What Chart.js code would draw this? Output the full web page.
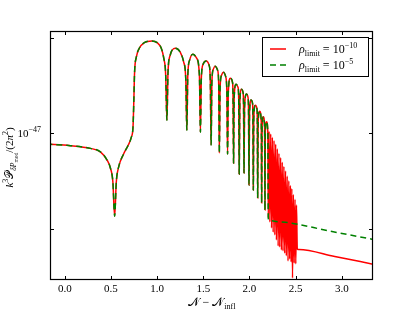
<!DOCTYPE html>
<html>
<head>
<meta charset="utf-8">
<script src="https://cdn.jsdelivr.net/npm/chart.js@4/dist/chart.umd.min.js"></script>
<style>
  html, body { margin: 0; padding: 0; background: #fff; }
</style>
</head>
<body>
<canvas id="chPower" width="415" height="312"></canvas>
<script>
// values: N - N_infl against k^3 P / (2 pi^2)
// part where both runs overlap (up to the end of the green oscillations)
var nShared = [
  -0.200, 0.062, 0.278, 0.386, 0.458, 0.494, 0.521, 0.540, 0.558, 0.583,
  0.637, 0.688, 0.721, 0.739, 0.748, 0.756, 0.775, 0.807, 0.861, 0.944,
  1.001, 1.045, 1.072, 1.093, 1.106,
  1.118, 1.142, 1.196, 1.250, 1.288, 1.311, 1.322,
  1.332, 1.352, 1.387, 1.428, 1.458, 1.469,
  1.479, 1.498, 1.531, 1.563, 1.576, 1.585,
  1.593, 1.609, 1.628, 1.655, 1.667, 1.674,
  1.682, 1.698, 1.718, 1.741, 1.755, 1.763,
  1.771, 1.793, 1.816, 1.822, 1.828,
  1.834, 1.855, 1.876, 1.884, 1.889,
  1.896, 1.914, 1.930, 1.936, 1.941,
  1.947, 1.968, 1.984, 1.990, 1.995,
  2.001, 2.017, 2.033, 2.037, 2.042,
  2.047, 2.065, 2.082, 2.085, 2.089,
  2.094, 2.111, 2.128, 2.132,
  2.137, 2.150, 2.164, 2.168,
  2.172, 2.185, 2.199, 2.204
];
var pShared = [
  0.923e-47, 0.913e-47, 0.895e-47, 0.873e-47, 0.822e-47, 0.776e-47, 0.701e-47, 0.547e-47, 0.701e-47, 0.781e-47,
  0.859e-47, 0.917e-47, 0.971e-47, 1.045e-47, 1.271e-47, 1.557e-47, 1.737e-47, 1.853e-47, 1.929e-47, 1.954e-47,
  1.929e-47, 1.853e-47, 1.724e-47, 1.524e-47, 1.099e-47,
  1.557e-47, 1.762e-47, 1.853e-47, 1.801e-47, 1.675e-47, 1.469e-47, 1.022e-47,
  1.513e-47, 1.699e-47, 1.775e-47, 1.724e-47, 1.524e-47, 1.007e-47,
  1.491e-47, 1.650e-47, 1.690e-47, 1.638e-47, 1.469e-47, 0.917e-47,
  1.448e-47, 1.592e-47, 1.627e-47, 1.580e-47, 1.427e-47, 0.865e-47,
  1.387e-47, 1.524e-47, 1.557e-47, 1.513e-47, 1.367e-47, 0.859e-47,
  1.347e-47, 1.491e-47, 1.448e-47, 1.318e-47, 0.804e-47,
  1.289e-47, 1.427e-47, 1.396e-47, 1.271e-47, 0.742e-47,
  1.252e-47, 1.376e-47, 1.347e-47, 1.234e-47, 0.748e-47,
  1.208e-47, 1.328e-47, 1.299e-47, 1.190e-47, 0.686e-47,
  1.165e-47, 1.271e-47, 1.243e-47, 1.148e-47, 0.661e-47,
  1.123e-47, 1.225e-47, 1.190e-47, 1.107e-47, 0.624e-47,
  1.083e-47, 1.173e-47, 1.083e-47, 0.602e-47,
  1.045e-47, 1.127e-47, 1.045e-47, 0.572e-47,
  1.015e-47, 1.087e-47, 1.007e-47, 0.540e-47
];

// rho_limit = 1e-10 keeps oscillating (densely) up to ~2.5
var nRedTail = [
  2.2124, 2.2210, 2.2302, 2.2394, 2.2480, 2.2567, 2.2659, 2.2750, 2.2837, 2.2923,
  2.3015, 2.3107, 2.3193, 2.3280, 2.3372, 2.3463, 2.3550, 2.3636, 2.3728, 2.3820,
  2.3906, 2.3993, 2.4085, 2.4176, 2.4263, 2.4349, 2.4430, 2.4511, 2.4587, 2.4663,
  2.4754, 2.4846, 2.4933, 2.5019, 2.5094, 2.5181, 2.535, 2.924, 3.338
];
var pRedTail = [
  1.012e-47, 0.524e-47, 0.994e-47, 0.502e-47, 0.970e-47, 0.487e-47, 0.947e-47, 0.477e-47, 0.923e-47, 0.460e-47,
  0.892e-47, 0.440e-47, 0.864e-47, 0.437e-47, 0.837e-47, 0.428e-47, 0.810e-47, 0.425e-47, 0.785e-47, 0.418e-47,
  0.760e-47, 0.410e-47, 0.732e-47, 0.395e-47, 0.707e-47, 0.401e-47, 0.683e-47, 0.392e-47, 0.668e-47, 0.349e-47,
  0.640e-47, 0.389e-47, 0.618e-47, 0.387e-47, 0.593e-47, 0.431e-47, 0.429e-47, 0.408e-47, 0.386e-47
];

// rho_limit = 1e-5
var nGreenTail = [2.209, 2.438, 2.870, 3.338];
var pGreenTail = [0.532e-47, 0.521e-47, 0.491e-47, 0.462e-47];

var xTicks = [0, 0.5, 1, 1.5, 2, 2.5, 3];
var yTicks = [5e-48, 1e-47, 2e-47];
var yLabelled = 1e-47;
var legendExp = ['\u221210', '\u22125'];

var SERIF = "'Liberation Serif', 'DejaVu Serif', serif";

function toPoints(xs, ys) {
  return xs.map(function (x, i) { return { x: x, y: ys[i] }; });
}

function drawRuns(ctx, runs, x, y, align) {
  var w = 0;
  runs.forEach(function (r) { ctx.font = r.font; w += ctx.measureText(r.t).width; });
  var cx = align === 'center' ? x - w / 2 : (align === 'right' ? x - w : x);
  runs.forEach(function (r) {
    ctx.font = r.font;
    ctx.fillText(r.t, cx, y + (r.dy || 0));
    cx += ctx.measureText(r.t).width;
  });
}

// matplotlib style box: frame on all four sides, ticks pointing inwards
var framePlugin = {
  id: 'frame',
  afterDatasetsDraw: function (chart) {
    var ctx = chart.ctx, a = chart.chartArea;
    var xs = chart.scales.x, ys = chart.scales.y;
    ctx.save();
    ctx.strokeStyle = '#000';
    ctx.lineWidth = 1;
    ctx.beginPath();
    xTicks.forEach(function (v) {
      var px = Math.round(xs.getPixelForValue(v)) + 0.5;
      ctx.moveTo(px, a.bottom); ctx.lineTo(px, a.bottom - 4);
      ctx.moveTo(px, a.top); ctx.lineTo(px, a.top + 4);
    });
    yTicks.forEach(function (v) {
      var py = Math.round(ys.getPixelForValue(v)) + 0.5;
      ctx.moveTo(a.left, py); ctx.lineTo(a.left + 4, py);
      ctx.moveTo(a.right, py); ctx.lineTo(a.right - 4, py);
    });
    ctx.stroke();
    ctx.lineWidth = 1.2;
    ctx.strokeRect(a.left + 0.5, a.top + 0.5, a.right - a.left - 1, a.bottom - a.top - 1);

    // the one labelled y tick, 10^-47
    ctx.fillStyle = '#000';
    drawRuns(ctx, [
      { t: '10', font: '11px ' + SERIF },
      { t: '\u221247', font: '8px ' + SERIF, dy: -5 }
    ], a.left - 9, ys.getPixelForValue(yLabelled) + 4, 'right');

    // legend
    var bx = a.right - 111, by = a.top + 6, bw = 106, bh = 39;
    ctx.fillStyle = '#fff';
    ctx.fillRect(bx, by, bw, bh);
    ctx.lineWidth = 1;
    ctx.strokeRect(bx + 0.5, by + 0.5, bw, bh);
    chart.data.datasets.forEach(function (ds, i) {
      var ry = by + 12 + i * 16;
      ctx.strokeStyle = ds.borderColor;
      ctx.lineWidth = ds.borderWidth;
      ctx.setLineDash(ds.borderDash || []);
      ctx.beginPath();
      ctx.moveTo(bx + 8, ry); ctx.lineTo(bx + 24, ry);
      ctx.stroke();
      ctx.setLineDash([]);
      ctx.fillStyle = '#000';
      drawRuns(ctx, [
        { t: '\u03c1', font: 'italic 12px ' + SERIF },
        { t: 'limit', font: '8px ' + SERIF, dy: 3 },
        { t: ' = 10', font: '12px ' + SERIF },
        { t: legendExp[i], font: '8px ' + SERIF, dy: -5 }
      ], bx + 37, ry + 4, 'left');
    });

    // axis titles
    ctx.fillStyle = '#000';
    drawRuns(ctx, [
      { t: '\ud835\udca9', font: '12px ' + SERIF },
      { t: ' \u2212 ', font: '12px ' + SERIF },
      { t: '\ud835\udca9', font: '12px ' + SERIF },
      { t: 'infl', font: '8px ' + SERIF, dy: 3 }
    ], (a.left + a.right) / 2, 306, 'center');

    ctx.translate(13, (a.top + a.bottom) / 2 + 2);
    ctx.rotate(-Math.PI / 2);
    drawRuns(ctx, [
      { t: 'k', font: 'italic 11px ' + SERIF },
      { t: '3', font: '8px ' + SERIF, dy: -5 },
      { t: '\ud835\udcab', font: '11px ' + SERIF },
      { t: '\u03b4P', font: 'italic 7.5px ' + SERIF, dy: 3 },
      { t: 'mod', font: '5.5px ' + SERIF, dy: 5 },
      { t: '/(2', font: '11px ' + SERIF },
      { t: '\u03c0', font: 'italic 11px ' + SERIF },
      { t: '2', font: '8px ' + SERIF, dy: -5 },
      { t: ')', font: '11px ' + SERIF }
    ], 0, 0, 'center');
    ctx.restore();
  }
};

var chPower = document.getElementById('chPower');
new Chart(chPower, {
  type: 'line',
  data: {
    datasets: [
      {
        label: 'rho_limit = 1e-10',
        data: toPoints(nShared.concat(nRedTail), pShared.concat(pRedTail)),
        borderColor: '#ff0000',
        borderWidth: 1.5,
        pointRadius: 0,
        cubicInterpolationMode: 'monotone',
        fill: false,
        order: 1
      },
      {
        label: 'rho_limit = 1e-5',
        data: toPoints(nShared.concat(nGreenTail), pShared.concat(pGreenTail)),
        borderColor: '#008000',
        borderWidth: 1.5,
        borderDash: [6, 4],
        pointRadius: 0,
        cubicInterpolationMode: 'monotone',
        fill: false,
        order: 0
      }
    ]
  },
  options: {
    responsive: false,
    animation: false,
    layout: { padding: { top: 31, right: 42, bottom: 0, left: 0 } },
    plugins: { legend: { display: false }, tooltip: { enabled: false } },
    scales: {
      x: {
        type: 'linear',
        bounds: 'data',
        min: -0.16,
        max: 3.338,
        grid: { display: false, drawTicks: false },
        border: { display: false },
        afterBuildTicks: function (s) { s.ticks = xTicks.map(function (v) { return { value: v }; }); },
        afterFit: function (s) { s.height = 32; },
        ticks: {
          autoSkip: false,
          maxRotation: 0,
          padding: 3,
          color: '#000',
          font: { family: SERIF, size: 11 },
          callback: function (v) { return Number(v).toFixed(1); }
        }
      },
      y: {
        type: 'logarithmic',
        bounds: 'data',
        min: 3.44e-48,
        max: 2.1e-47,
        grid: { display: false, drawTicks: false },
        border: { display: false },
        afterBuildTicks: function (s) { s.ticks = yTicks.map(function (v) { return { value: v }; }); },
        afterFit: function (s) { s.width = 50; },
        ticks: {
          autoSkip: false,
          display: false
        }
      }
    }
  },
  plugins: [framePlugin]
});
</script>
</body>
</html>
